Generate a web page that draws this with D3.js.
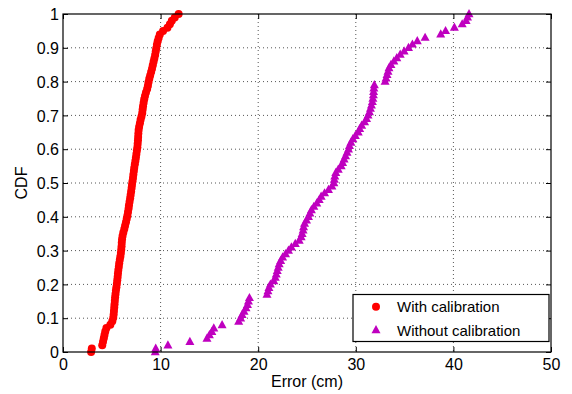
<!DOCTYPE html>
<html>
<head>
<meta charset="utf-8">
<script src="https://cdn.jsdelivr.net/npm/d3@7/dist/d3.min.js"></script>
<style>
  html, body { margin: 0; padding: 0; background: #fff; }
  svg { display: block; font-family: "Liberation Sans", Arial, Helvetica, sans-serif; }
</style>
</head>
<body>
<svg id="chart" width="572" height="394"></svg>
<script>
// Sorted localisation errors (cm) for each condition; the empirical CDF is built from these.
const withCalibration = [
  2.88, 2.95, 4.02, 4.10, 4.18, 4.25, 4.33, 4.45, 4.85, 5.05,
  5.15, 5.19, 5.22, 5.25, 5.28, 5.31, 5.34, 5.38, 5.42, 5.47,
  5.52, 5.56, 5.60, 5.63, 5.67, 5.72, 5.76, 5.82, 5.88, 5.93,
  5.97, 6.00, 6.02, 6.05, 6.10, 6.18, 6.28, 6.36, 6.45, 6.53,
  6.60, 6.66, 6.72, 6.76, 6.82, 6.88, 6.93, 6.98, 7.03, 7.07,
  7.12, 7.17, 7.21, 7.26, 7.30, 7.36, 7.42, 7.47, 7.52, 7.57,
  7.62, 7.65, 7.68, 7.70, 7.72, 7.75, 7.80, 7.88, 7.95, 8.04,
  8.12, 8.16, 8.20, 8.26, 8.32, 8.40, 8.50, 8.62, 8.70, 8.76,
  8.84, 8.93, 9.03, 9.12, 9.20, 9.28, 9.36, 9.44, 9.50, 9.56,
  9.62, 9.70, 9.80, 9.92, 10.25, 10.70, 10.95, 11.15, 11.45, 11.85
];
const withoutCalibration = [
  9.45, 9.50, 10.75, 13.0, 14.75, 15.0, 15.25, 15.45, 16.3, 18.0,
  18.2, 18.35, 18.55, 18.75, 18.9, 19.0, 19.1, 20.9, 21.0, 21.1,
  21.25, 21.6, 21.75, 21.85, 21.95, 22.05, 22.15, 22.3, 22.5, 22.8,
  23.1, 23.4, 23.8, 24.2, 24.4, 24.5, 24.6, 24.65, 24.75, 24.95,
  25.15, 25.3, 25.45, 25.7, 26.0, 26.25, 26.45, 26.8, 27.2, 27.55,
  27.75, 27.8, 27.85, 27.95, 28.2, 28.5, 28.65, 28.8, 28.95, 29.1,
  29.25, 29.35, 29.5, 29.7, 29.95, 30.25, 30.4, 30.6, 30.9, 31.1,
  31.25, 31.4, 31.5, 31.6, 31.7, 31.75, 31.8, 31.82, 31.85, 31.9,
  33.0, 33.1, 33.2, 33.3, 33.4, 33.6, 33.9, 34.2, 34.55, 34.95,
  35.4, 35.8, 36.3, 37.1, 38.7, 39.2, 40.1, 40.9, 41.3, 41.45,
  41.6
];
const seriesNames = ["With calibration", "Without calibration"];
const seriesColors = ["#ff0000", "#bf00bf"];
const xTicks = [0, 10, 20, 30, 40, 50];
const yTicks = [0, 0.1, 0.2, 0.3, 0.4, 0.5, 0.6, 0.7, 0.8, 0.9, 1];
const xLabel = "Error (cm)";
const yLabel = "CDF";

// Empirical CDF: the i-th smallest of n samples sits at i/(n-1)
function ecdf(values) {
  const n = values.length;
  return values.map((v, i) => ({ x: v, y: i / (n - 1) }));
}

const svg = d3.select("#chart");
const pLeft = 63, pRight = 551, pTop = 14, pBottom = 352;
const x = d3.scaleLinear().domain([0, 50]).range([pLeft, pRight]);
const y = d3.scaleLinear().domain([0, 1]).range([pBottom, pTop]);
const fs = 16;      // tick labels and axis titles
const legendFs = 15;

// Dotted grid
const grid = svg.append("g");
grid.selectAll("line.gx").data(xTicks.slice(1, -1)).join("line")
  .attr("x1", d => x(d)).attr("x2", d => x(d))
  .attr("y1", pTop).attr("y2", pBottom)
  .attr("stroke", "#555").attr("stroke-width", 1)
  .attr("stroke-dasharray", "1,3");
grid.selectAll("line.gy").data(yTicks.slice(1, -1)).join("line")
  .attr("x1", pLeft).attr("x2", pRight)
  .attr("y1", d => y(d)).attr("y2", d => y(d))
  .attr("stroke", "#555").attr("stroke-width", 1)
  .attr("stroke-dasharray", "1,3");

// Marker shapes
const tri = "M0,-5L4.5,3.2L-4.5,3.2Z";
const dotR = 4;

// Data markers
const gWith = svg.append("g");
gWith.selectAll("circle").data(ecdf(withCalibration)).join("circle")
  .attr("cx", d => x(d.x)).attr("cy", d => y(d.y)).attr("r", dotR)
  .attr("fill", seriesColors[0]);
const gWithout = svg.append("g");
gWithout.selectAll("path").data(ecdf(withoutCalibration)).join("path")
  .attr("d", tri)
  .attr("transform", d => `translate(${x(d.x)},${y(d.y)})`)
  .attr("fill", seriesColors[1]);

// Axes box with inward ticks on all sides
const axisBottom = d3.axisBottom(x).tickValues(xTicks).tickSize(-5).tickPadding(6.5).tickFormat(d3.format("d"));
const axisTop = d3.axisTop(x).tickValues(xTicks).tickSize(-5).tickFormat("");
const axisLeft = d3.axisLeft(y).tickValues(yTicks).tickSize(-5).tickPadding(4).tickFormat(d => d === 0 || d === 1 ? String(d) : d3.format(".1f")(d));
const axisRight = d3.axisRight(y).tickValues(yTicks).tickSize(-5).tickFormat("");

function styleAxis(g) {
  g.select(".domain").remove();
  g.selectAll(".tick line").attr("stroke", "#000").attr("stroke-width", 1);
  g.selectAll("text").attr("fill", "#000").style("font-size", fs + "px")
    .style("font-family", '"Liberation Sans", Arial, sans-serif');
}
svg.append("g").attr("transform", `translate(0,${pBottom})`).call(axisBottom).call(styleAxis);
svg.append("g").attr("transform", `translate(0,${pTop})`).call(axisTop).call(styleAxis);
svg.append("g").attr("transform", `translate(${pLeft},0)`).call(axisLeft).call(styleAxis)
  .selectAll("text").attr("dy", "0.36em");
svg.append("g").attr("transform", `translate(${pRight},0)`).call(axisRight).call(styleAxis);

svg.append("rect")
  .attr("x", pLeft).attr("y", pTop)
  .attr("width", pRight - pLeft).attr("height", pBottom - pTop)
  .attr("fill", "none").attr("stroke", "#000").attr("stroke-width", 1.2);

// Axis titles
svg.append("text").attr("x", (pLeft + pRight) / 2).attr("y", 387)
  .attr("text-anchor", "middle").style("font-size", fs + "px").text(xLabel);
svg.append("text")
  .attr("transform", `translate(27,${(pTop + pBottom) / 2}) rotate(-90)`)
  .attr("text-anchor", "middle").style("font-size", fs + "px").text(yLabel);

// Legend
const lg = svg.append("g");
lg.append("rect").attr("x", 353).attr("y", 294.5).attr("width", 196).attr("height", 47)
  .attr("fill", "#fff").attr("stroke", "#000").attr("stroke-width", 1.2);
const rows = [306.7, 330];
lg.append("circle").attr("cx", 376).attr("cy", rows[0]).attr("r", dotR).attr("fill", seriesColors[0]);
lg.append("path").attr("d", tri).attr("transform", `translate(376,${rows[1]})`).attr("fill", seriesColors[1]);
seriesNames.forEach((name, i) => {
  lg.append("text").attr("x", 397).attr("y", rows[i] + 5.5)
    .style("font-size", legendFs + "px").attr("fill", "#000").text(name);
});
</script>
</body>
</html>
